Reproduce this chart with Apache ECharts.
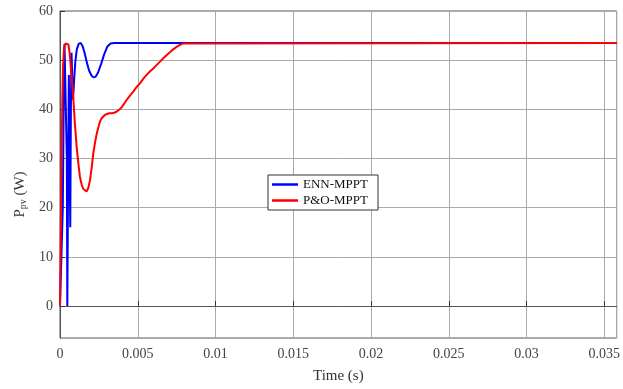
<!DOCTYPE html>
<html>
<head>
<meta charset="utf-8">
<script src="https://cdn.jsdelivr.net/npm/echarts@6/dist/echarts.min.js"></script>
<style>
html,body{margin:0;padding:0;background:#fff;}
#chart{width:623px;height:389px;}
</style>
</head>
<body>
<div id="chart"></div>
<script>
// ENN-MPPT (blue)
const timeENN = [0, 0.00012, 0.00018, 0.00024, 0.00029, 0.00034, 0.00041, 0.00044, 0.00047, 0.0005, 0.00053, 0.00057, 0.0006, 0.00066, 0.0007, 0.00074, 0.00079, 0.00084, 0.0009, 0.00098, 0.00108, 0.0012, 0.00133, 0.00145, 0.00158, 0.00172, 0.00187, 0.00202, 0.00215, 0.00228, 0.00245, 0.00265, 0.00285, 0.00305, 0.00325, 0.0035, 0.0358];
const powerENN = [0, 0, 20, 42, 53.3, 53.5, 53.3, 30, 0, 0, 30, 47, 35, 16, 40, 51.5, 46, 42, 45.5, 49.5, 52.2, 53.3, 53.5, 52.9, 51.5, 49.6, 47.9, 46.9, 46.5, 46.6, 47.5, 49.3, 51.3, 52.8, 53.4, 53.5, 53.5];
// P&O-MPPT (red)
const timePO = [0, 0.00005, 0.0001, 0.00015, 0.0002, 0.00026, 0.00035, 0.00045, 0.00054, 0.00062, 0.0007, 0.00078, 0.00086, 0.00096, 0.00107, 0.00118, 0.00128, 0.0014, 0.0015, 0.00161, 0.00171, 0.00182, 0.00193, 0.00204, 0.00214, 0.00225, 0.00236, 0.00247, 0.00257, 0.00268, 0.00278, 0.0029, 0.003, 0.00316, 0.00332, 0.00348, 0.00364, 0.0038, 0.00396, 0.00412, 0.00428, 0.0045, 0.00471, 0.00492, 0.00514, 0.00535, 0.00557, 0.00578, 0.006, 0.00621, 0.00643, 0.00664, 0.00685, 0.00707, 0.00728, 0.0075, 0.00771, 0.00793, 0.0358];
const powerPO = [0, 15, 30, 42, 49, 52.5, 53.4, 53.5, 53.2, 51.5, 48.5, 45.5, 42, 37, 32.4, 29, 26.3, 24.6, 23.8, 23.4, 23.3, 24.0, 25.6, 28.2, 31, 33.2, 35, 36.4, 37.5, 38.2, 38.6, 38.9, 39.2, 39.2, 39.2, 39.3, 39.5, 39.9, 40.4, 41.1, 41.9, 42.8, 43.6, 44.5, 45.3, 46.2, 47, 47.7, 48.3, 49.0, 49.7, 50.4, 51, 51.6, 52.2, 52.7, 53.1, 53.4, 53.5];
// Axis ticks
const xTicks = [0, 0.005, 0.01, 0.015, 0.02, 0.025, 0.03, 0.035];
const yTicks = [0, 10, 20, 30, 40, 50, 60];

const zip = (a, b) => a.map((t, i) => [t, b[i]]);
const FONT = "'Liberation Serif', 'Times New Roman', serif";

const chart = echarts.init(document.getElementById('chart'), null, {renderer: 'canvas'});
chart.setOption({
  animation: false,
  backgroundColor: '#ffffff',
  grid: {left: 60, right: 4, top: 11, bottom: 50, show: true, borderColor: '#555', borderWidth: 1, containLabel: false},
  legend: {
    orient: 'vertical', left: 268, top: 175,
    backgroundColor: '#fff', borderColor: '#333', borderWidth: 1,
    padding: [3, 10, 3, 4], itemGap: 3,
    itemWidth: 26, itemHeight: 2.5, icon: 'rect',
    textStyle: {fontFamily: FONT, fontSize: 13, color: '#111'},
    data: ['ENN-MPPT', 'P&O-MPPT']
  },
  xAxis: {
    type: 'value', min: 0, max: 0.0358, interval: 0.005,
    name: 'Time (s)', nameLocation: 'middle', nameGap: 31,
    nameTextStyle: {fontFamily: FONT, fontSize: 15, color: '#333'},
    axisLine: {lineStyle: {color: '#555'}},
    axisTick: {inside: true, length: 5, lineStyle: {color: '#333'}},
    axisLabel: {fontFamily: FONT, fontSize: 14, color: '#444', margin: 9, showMaxLabel: false,
      formatter: v => xTicks.includes(+v.toFixed(4)) ? String(+v.toFixed(4)) : ''},
    splitLine: {show: true, lineStyle: {color: '#aaaaaa', width: 1}}
  },
  yAxis: {
    type: 'value', min: -6.5, max: 60, splitNumber: 6,
    name: 'P{sub|pv} (W)', nameLocation: 'middle', nameGap: 31, nameRotate: 90,
    nameTextStyle: {fontFamily: FONT, fontSize: 15, color: '#333', padding: [0, 40, 0, 0],
      rich: {sub: {fontFamily: FONT, fontSize: 10, color: '#333', verticalAlign: 'bottom', padding: [6, 0, 0, 0]}}},
    axisLine: {show: true, lineStyle: {color: '#555'}},
    axisTick: {inside: true, length: 5, lineStyle: {color: '#333'}},
    axisLabel: {fontFamily: FONT, fontSize: 14, color: '#444', margin: 7, showMinLabel: false,
      formatter: v => yTicks.includes(v) ? String(v) : ''},
    splitLine: {show: true, lineStyle: {color: '#aaaaaa', width: 1}}
  },
  series: [
    {name: 'ENN-MPPT', type: 'line', data: zip(timeENN, powerENN), showSymbol: false, symbol: 'none',
     color: '#0000ff', lineStyle: {color: '#0000ff', width: 2}},
    {name: 'P&O-MPPT', type: 'line', data: zip(timePO, powerPO), showSymbol: false, symbol: 'none',
     color: '#ff0000', lineStyle: {color: '#ff0000', width: 2}}
  ]
});
</script>
</body>
</html>
